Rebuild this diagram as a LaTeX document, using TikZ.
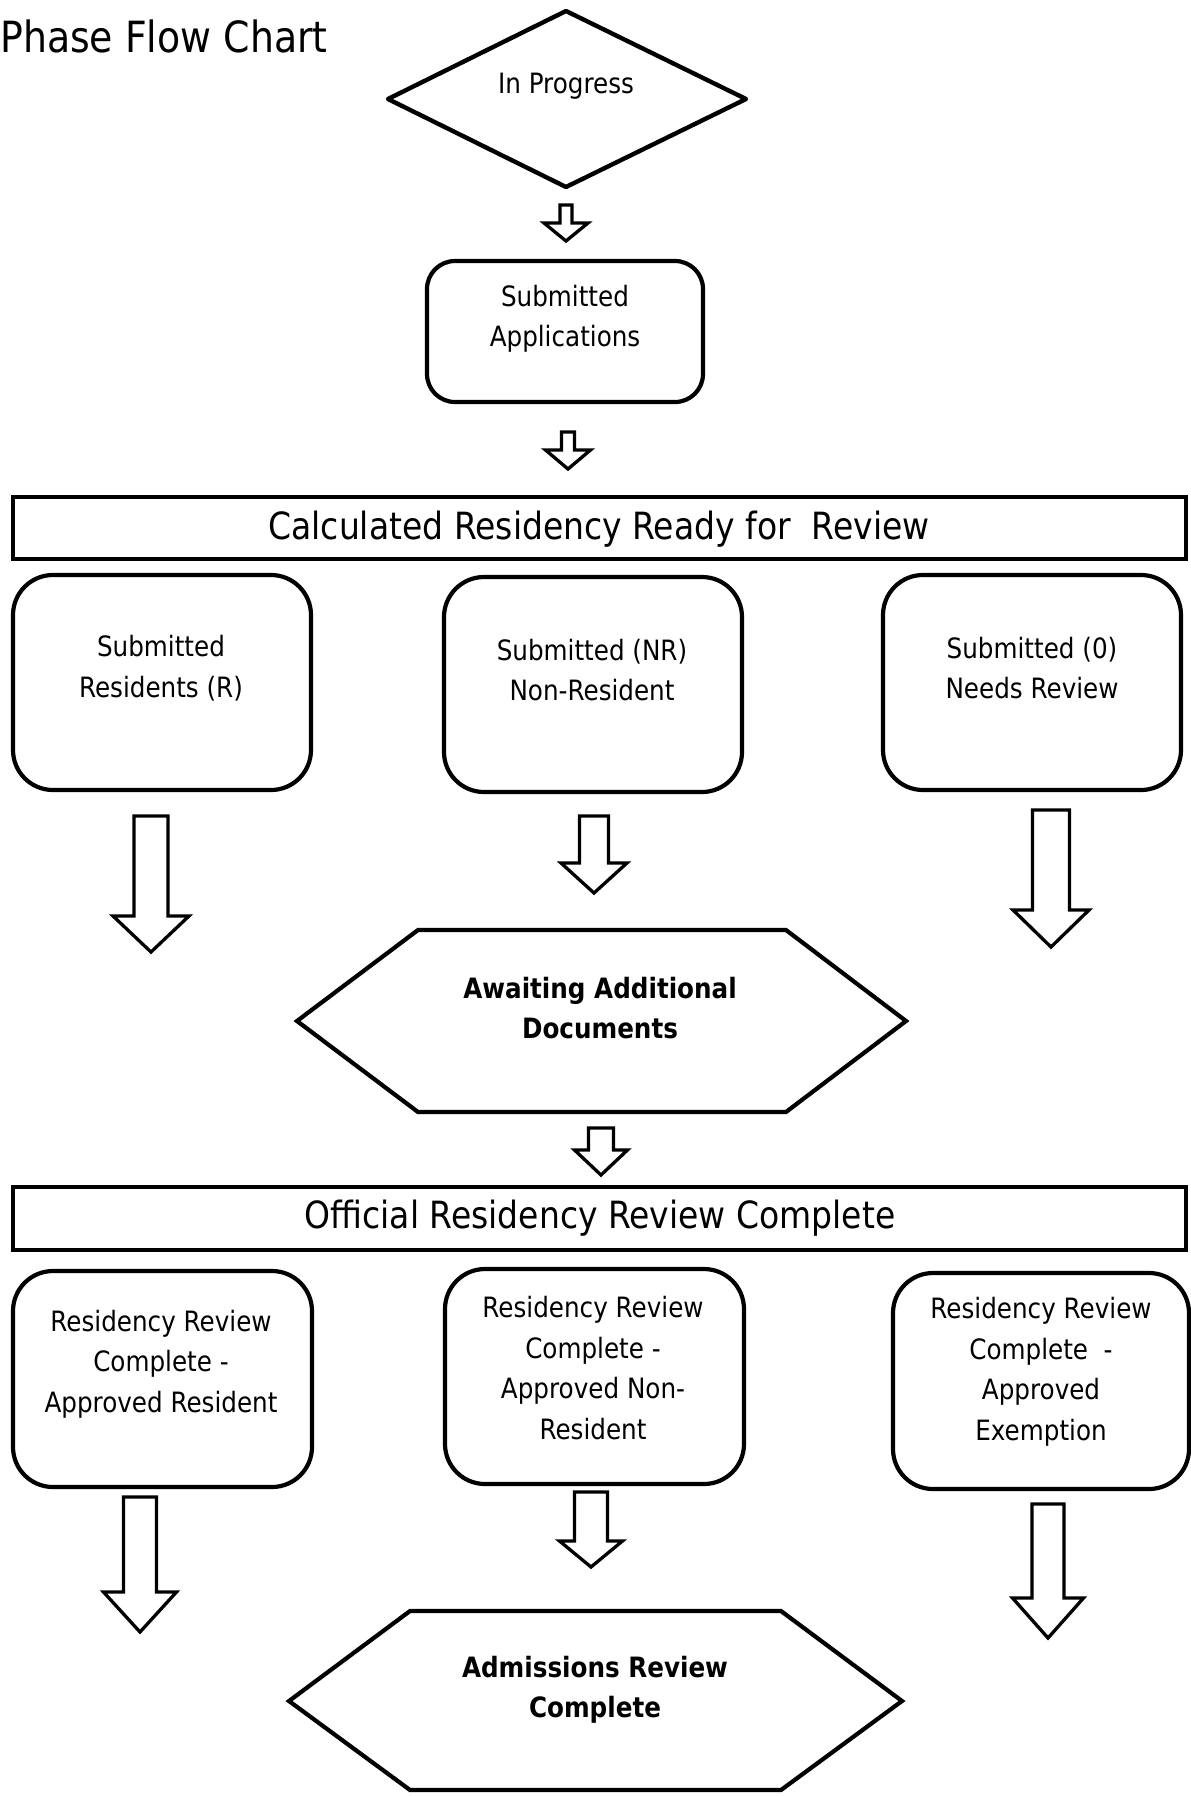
\documentclass[tikz,border=0pt]{standalone}
\usepackage{fontspec}
\setmainfont{DejaVu Sans}[FakeStretch=0.88]
\begin{document}
\begin{tikzpicture}[x=1pt,y=-1pt,
  box/.style={draw,line width=4.2pt,rounded corners=#1},
  box/.default=40pt,
  banner/.style={draw,line width=4.2pt},
  shapeline/.style={draw,line width=4.2pt,line join=miter},
  barrow/.style={draw,line width=3.3pt,line join=miter,fill=white},
  txt/.style={font=\fontsize{28}{40.5}\selectfont,align=center,inner sep=0pt},
  btxt/.style={font=\fontsize{28}{40.5}\selectfont\bfseries,align=center,inner sep=0pt},
  bigtxt/.style={font=\fontsize{37.5}{45}\selectfont,inner sep=0pt}]
\newcommand\blockarrow[6]{%
  \draw[barrow] (#1-#3/2,#2) -- (#1+#3/2,#2) -- (#1+#3/2,#4) -- (#1+#5/2,#4)
    -- (#1,#6) -- (#1-#5/2,#4) -- (#1-#3/2,#4) -- cycle;}
\useasboundingbox (0,0) rectangle (1191,1796);
\fill[white] (0,0) rectangle (1191,1796);
% title
\node[anchor=west,inner sep=0pt,font=\fontsize{43}{50}\selectfont] (title) at (0,36) {Phase Flow Chart};
% diamond
\draw[line width=4.4pt,line join=round] (388,99) coordinate (dl) -- (566,11) coordinate (dt)
  -- (746,99) coordinate (dr) -- (566,187) coordinate (db) -- cycle;
\node[txt] (inprog) at (566,86) {In Progress};
\blockarrow{566}{205}{12}{223}{44}{241}
% submitted applications
\draw[box=28pt] (427,261) rectangle (703,402);
\node[txt] (subapp) at (565,319) {Submitted\\Applications};
\blockarrow{568}{432}{13}{450}{45}{469}
% banner 1
\draw[banner] (13,497) rectangle (1186,559);
\node[bigtxt] (ban1) at (599,529) {Calculated Residency Ready for\ \ Review};
% row 1 boxes
\draw[box] (13,575) rectangle (311,790);
\draw[box] (444,577) rectangle (742,792);
\draw[box] (883,575) rectangle (1181,790);
\node[txt] (r1a) at (161,668) {Submitted\\Residents (R)};
\node[txt] (r1b) at (592,670) {Submitted (NR)\\Non-Resident};
\node[txt] (r1c) at (1032,668) {Submitted (0)\\Needs Review};
% row 1 arrows
\blockarrow{151}{816}{34}{916}{76}{952}
\blockarrow{594}{816}{29}{863}{66}{893}
\blockarrow{1051}{810}{37}{910}{76}{947}
% hexagon 1
\draw[shapeline] (297,1021) -- (418,930) -- (786,930) -- (906,1021) -- (786,1112) -- (418,1112) -- cycle;
\node[btxt] (hex1) at (600,1008) {Awaiting Additional\\Documents};
\blockarrow{601}{1128}{25}{1150}{53}{1175}
% banner 2
\draw[banner] (13,1187) rectangle (1186,1250);
\node[bigtxt] (ban2) at (600,1218) {Official Residency Review Complete};
% row 2 boxes
\draw[box] (13,1271) rectangle (312,1487);
\draw[box] (445,1269) rectangle (744,1484);
\draw[box] (893,1273) rectangle (1189,1489);
\node[txt] (r2a) at (161,1364) {Residency Review\\Complete -\\Approved Resident};
\node[txt] (r2b) at (593,1368) {Residency Review\\Complete -\\Approved Non-\\Resident};
\node[txt] (r2c) at (1041,1372) {Residency Review\\Complete\ \ -\\Approved\\Exemption};
% row 2 arrows
\blockarrow{140}{1497}{33}{1592}{73}{1632}
\blockarrow{591}{1492}{33}{1541}{63}{1567}
\blockarrow{1048}{1504}{32}{1598}{71}{1638}
% hexagon 2
\draw[shapeline] (289,1701) -- (410,1611) -- (781,1611) -- (902,1701) -- (781,1790) -- (410,1790) -- cycle;
\node[btxt] (hex2) at (595,1690) {Admissions Review\\Complete};
\end{tikzpicture}
\end{document}
